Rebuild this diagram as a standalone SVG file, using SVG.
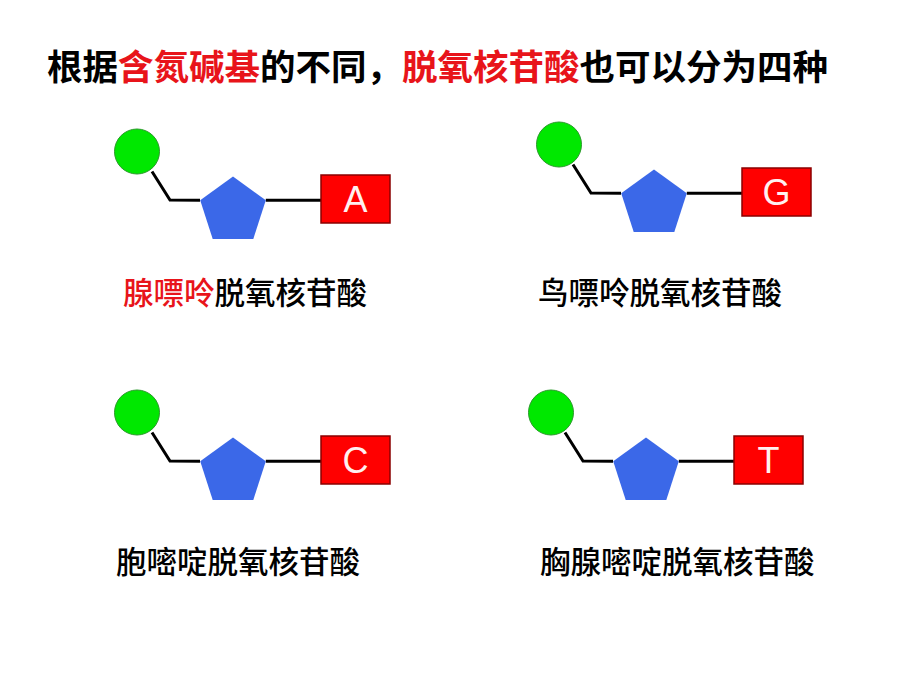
<svg xmlns="http://www.w3.org/2000/svg" width="920" height="690" viewBox="0 0 920 690">
<style>
.t{font-family:"Noto Sans CJK SC","Noto Sans CJK TC",sans-serif;fill:#000}
.title{font-size:35.5px;font-weight:bold}
.lbl{font-size:30.5px;font-weight:500}
.red{fill:#e8141a}
.ph{fill:#00e800;stroke:#2a9a2a;stroke-width:1}
.sug{fill:#3b68e8}
.base{fill:#ff0000;stroke:#8a0000;stroke-width:1.5}
.bl{font-family:"Liberation Sans",Arial,sans-serif;font-size:36px;fill:#fff0f0;text-anchor:middle}
.cn{fill:none;stroke:#000;stroke-width:3;stroke-linejoin:miter}
</style>
<defs>
<path id="pent" d="M0,-34.5 L32.8,-10.7 L20.3,27.9 L-20.3,27.9 L-32.8,-10.7 Z"/>
</defs>
<rect width="920" height="690" fill="#fff"/>
<text class="t title" x="47" y="80">根据<tspan class="red">含氮碱基</tspan>的不同，<tspan class="red">脱氧核苷酸</tspan>也可以分为四种</text>

<g id="connectors">
<path class="cn" d="M152,171.5 L170,200 L200,200.3"/>
<path class="cn" d="M265.8,200.3 L321,200.3"/>
<path class="cn" d="M573,164.5 L591,193 L621,193.3"/>
<path class="cn" d="M686.8,193.3 L742,193.3"/>
<path class="cn" d="M152,432.5 L170,461 L200,461.3"/>
<path class="cn" d="M265.8,461.3 L321,461.3"/>
<path class="cn" d="M565,432.5 L583,461 L613,461.3"/>
<path class="cn" d="M678.8,461.3 L734,461.3"/>
</g>

<g id="adenine">
<circle class="ph" cx="137" cy="151.5" r="22.5"/>
<use href="#pent" class="sug" x="233" y="211"/>
<rect class="base" x="321" y="175" width="69" height="48"/>
<text class="bl" x="355.5" y="212">A</text>
<text class="t lbl" x="123" y="304"><tspan class="red">腺嘌呤</tspan>脱氧核苷酸</text>
</g>

<g id="guanine">
<circle class="ph" cx="559" cy="144.5" r="22.5"/>
<use href="#pent" class="sug" x="654" y="204"/>
<rect class="base" x="742" y="168" width="69" height="48"/>
<text class="bl" x="776.5" y="205">G</text>
<text class="t lbl" x="538" y="304">鸟嘌呤脱氧核苷酸</text>
</g>

<g id="cytosine">
<circle class="ph" cx="137" cy="412.5" r="22.5"/>
<use href="#pent" class="sug" x="233" y="472"/>
<rect class="base" x="321" y="436" width="69" height="48"/>
<text class="bl" x="355.5" y="473">C</text>
<text class="t lbl" x="116" y="573">胞嘧啶脱氧核苷酸</text>
</g>

<g id="thymine">
<circle class="ph" cx="551" cy="412.5" r="22.5"/>
<use href="#pent" class="sug" x="646" y="472"/>
<rect class="base" x="734" y="436" width="69" height="48"/>
<text class="bl" x="768.5" y="473">T</text>
<text class="t lbl" x="540" y="573">胸腺嘧啶脱氧核苷酸</text>
</g>
</svg>
